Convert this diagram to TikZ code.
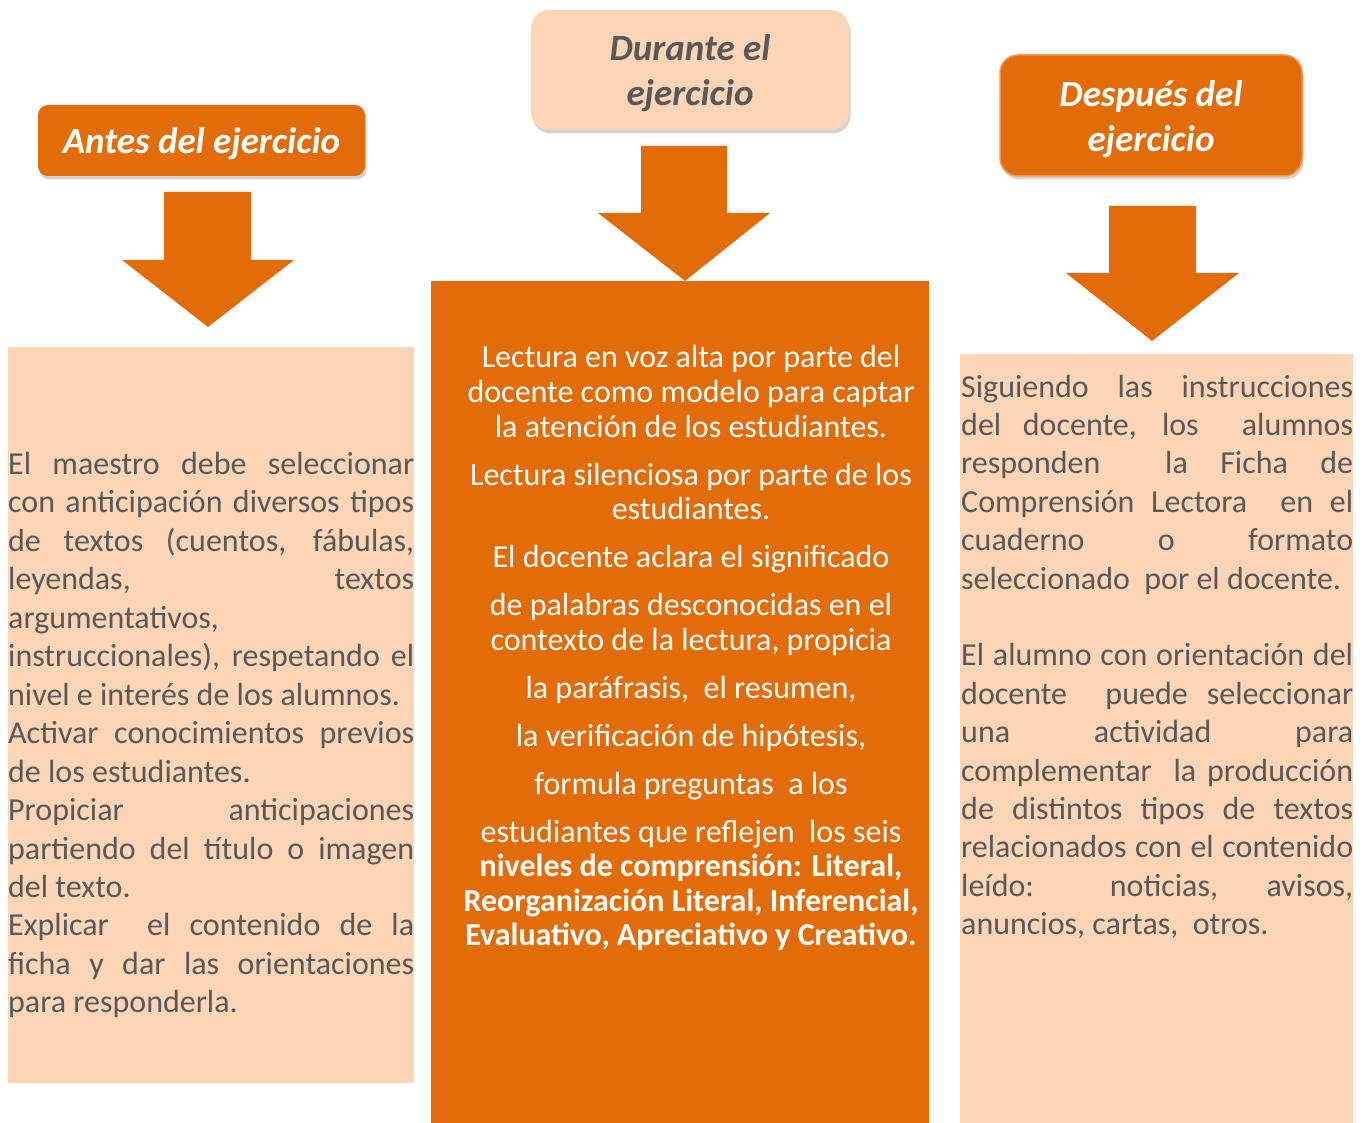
\documentclass[tikz,border=0pt]{standalone}
\usepackage{fontspec}
\setmainfont{Carlito}
\usetikzlibrary{shadows}
\definecolor{orng}{HTML}{E36C0A}
\definecolor{peach}{HTML}{FBD5B5}
\definecolor{txtgray}{HTML}{595959}
\definecolor{lightorng}{HTML}{F79646}
\newcommand{\jl}[2]{\makebox[#1pt][s]{#2}}
\newcommand{\ttl}[2]{\raisebox{0pt}[\height][\dimexpr\depth-#1\relax]{\begin{tabular}{@{}c@{}}#2\end{tabular}}}
\begin{document}
\begin{tikzpicture}[x=1pt,y=-1pt,
  titlebox/.style={inner sep=0pt, align=center,
    font=\fontsize{37}{45}\selectfont\bfseries\itshape,
    drop shadow={shadow xshift=1.5pt, shadow yshift=-3.5pt, opacity=0.35}},
  panel/.style={inner sep=0pt, anchor=north west},
  ptext/.style={inner sep=0pt, text=txtgray, font=\fontsize{32}{38}\selectfont},
  ltext/.style={ptext, anchor=base west},
  ctext/.style={inner sep=0pt, text=white, font=\fontsize{32}{38}\selectfont, anchor=base},
  blockarrow/.style={fill=orng}
]
\useasboundingbox (0,0) rectangle (1365,1123);

% title boxes
\node[titlebox, fill=orng, text=white, rounded corners=10pt,
      minimum width=327pt, minimum height=71pt] (t1) at (201.5,140.5) {\ttl{8pt}{Antes del ejercicio}};
\node[titlebox, fill=peach, text=txtgray, rounded corners=18pt,
      minimum width=318pt, minimum height=120pt] (t2) at (690,70) {\ttl{9pt}{Durante el\\ejercicio}};
\node[titlebox, fill=orng, draw=lightorng, line width=1.5pt, text=white, rounded corners=18pt,
      minimum width=302pt, minimum height=121pt] (t3) at (1151,115.5) {\ttl{9pt}{Después del\\ejercicio}};

% panels
\node[panel, fill=peach, minimum width=406pt, minimum height=736pt] (p1) at (8,347) {};
\node[panel, fill=orng, minimum width=498pt, minimum height=842pt] (p2) at (431,281) {};
\node[panel, fill=peach, minimum width=393pt, minimum height=769pt] (p3) at (960,354) {};

% block arrows
\fill[blockarrow] (164,192) -- (251,192) -- (251,260) -- (294,260) -- (208,327) -- (122,260) -- (164,260) -- cycle;
\fill[blockarrow] (641,146) -- (727,146) -- (727,213) -- (770,213) -- (685,281) -- (598,213) -- (641,213) -- cycle;
\fill[blockarrow] (1109,206) -- (1196,206) -- (1196,273) -- (1239,273) -- (1152,341) -- (1066,273) -- (1109,273) -- cycle;

% panel 1 text
\node[ltext] (a1) at (8,474) {\jl{406}{El maestro debe seleccionar}};
\node[ltext] (a2) at (8,512) {\jl{406}{con anticipación diversos tipos}};
\node[ltext] (a3) at (8,551) {\jl{406}{de textos (cuentos, fábulas,}};
\node[ltext] (a4) at (8,589) {\jl{406}{leyendas, textos}};
\node[ltext] (a5) at (8,628) {argumentativos,};
\node[ltext] (a6) at (8,666) {\jl{406}{instruccionales), respetando el}};
\node[ltext] (a7) at (8,705) {nivel e interés de los alumnos.};
\node[ltext] (a8) at (8,743) {\jl{406}{Activar conocimientos previos}};
\node[ltext] (a9) at (8,782) {de los estudiantes.};
\node[ltext] (a10) at (8,820) {\jl{406}{Propiciar anticipaciones}};
\node[ltext] (a11) at (8,859) {\jl{406}{partiendo del título o imagen}};
\node[ltext] (a12) at (8,897) {del texto.};
\node[ltext] (a13) at (8,935) {\jl{406}{Explicar\ \ el contenido de la}};
\node[ltext] (a14) at (8,974) {\jl{406}{ficha y dar las orientaciones}};
\node[ltext] (a15) at (8,1012) {para responderla.};

% panel 2 text
\node[ctext] (b1) at (691,367) {Lectura en voz alta por parte del};
\node[ctext] (b2) at (691,402) {docente como modelo para captar};
\node[ctext] (b3) at (691,437) {la atención de los estudiantes.};
\node[ctext] (b4) at (691,485) {Lectura silenciosa por parte de los};
\node[ctext] (b5) at (691,519) {estudiantes.};
\node[ctext] (b6) at (691,567) {El docente aclara el significado};
\node[ctext] (b7) at (691,615) {de palabras desconocidas en el};
\node[ctext] (b8) at (691,650) {contexto de la lectura, propicia};
\node[ctext] (b9) at (691,698) {la paráfrasis,\ \ el resumen,};
\node[ctext] (b10) at (691,746) {la verificación de hipótesis,};
\node[ctext] (b11) at (691,794) {formula preguntas\ \ a los};
\node[ctext] (b12) at (691,842) {estudiantes que reflejen\ \ los seis};
\node[ctext] (b13) at (691,876) {\bfseries niveles de comprensión: Literal,};
\node[ctext] (b14) at (691,911) {\bfseries Reorganización Literal, Inferencial,};
\node[ctext] (b15) at (691,945) {\bfseries Evaluativo, Apreciativo y Creativo.};

% panel 3 text
\node[ltext] (c1) at (961,397) {\jl{392}{Siguiendo las instrucciones}};
\node[ltext] (c2) at (961,435) {\jl{392}{del docente, los\ \ alumnos}};
\node[ltext] (c3) at (961,473) {\jl{392}{responden\ \ la Ficha de}};
\node[ltext] (c4) at (961,512) {\jl{392}{Comprensión Lectora\ \ en el}};
\node[ltext] (c5) at (961,550) {\jl{392}{cuaderno o formato}};
\node[ltext] (c6) at (961,589) {seleccionado\ \ por el docente.};
\node[ltext] (c7) at (961,665) {\jl{392}{El alumno con orientación del}};
\node[ltext] (c8) at (961,704) {\jl{392}{docente\ \ puede seleccionar}};
\node[ltext] (c9) at (961,742) {\jl{392}{una actividad para}};
\node[ltext] (c10) at (961,781) {\jl{392}{complementar\ \ la producción}};
\node[ltext] (c11) at (961,819) {\jl{392}{de distintos tipos de textos}};
\node[ltext] (c12) at (961,857) {\jl{392}{relacionados con el contenido}};
\node[ltext] (c13) at (961,896) {\jl{392}{leído: noticias, avisos,}};
\node[ltext] (c14) at (961,934) {anuncios, cartas,\ \ otros.};
\end{tikzpicture}
\end{document}
